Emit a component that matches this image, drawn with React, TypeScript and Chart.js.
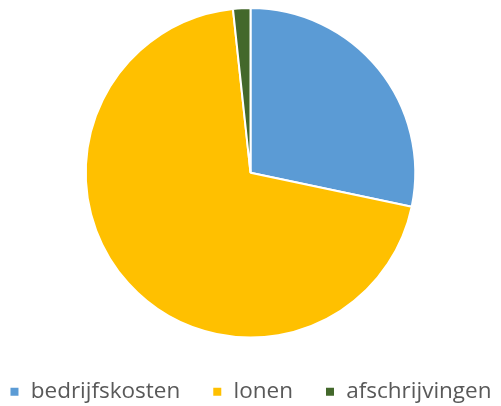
import React, { useEffect, useRef } from "react";
import { Chart, registerables } from "chart.js";

Chart.register(...registerables);

const categories = ["bedrijfskosten", "lonen", "afschrijvingen"];
const values = [28.3, 70.0, 1.7];
const colors = ["#5B9BD5", "#FFC000", "#43682B"];

export default function App() {
  const ref = useRef<HTMLCanvasElement | null>(null);
  useEffect(() => {
    if (!ref.current) return;
    const chart = new Chart(ref.current, {
      type: "pie",
      data: {
        labels: categories,
        datasets: [
          {
            data: values,
            backgroundColor: colors,
            borderColor: "#FFFFFF",
            borderWidth: 2,
          },
        ],
      },
      options: {
        responsive: false,
        animation: false,
        layout: { padding: { top: 7, bottom: -7, left: -40, right: -40 } },
        plugins: {
          tooltip: { enabled: false },
          legend: {
            position: "bottom",
            title: {
              display: true,
              text: " ",
              font: { size: 10, lineHeight: 1 },
              padding: { top: 0, bottom: 0 },
            },
            labels: {
              boxWidth: 10,
              boxHeight: 10,
              padding: 32,
              color: "#595959",
              font: { family: "'Open Sans', sans-serif", size: 22.5 },
            },
          },
        },
      },
    });
    return () => chart.destroy();
  }, []);
  return (
    <div style={{ position: "fixed", left: 0, top: 0, width: 501, height: 406, background: "#fff" }}>
      <canvas ref={ref} width={501} height={406} />
    </div>
  );
}
